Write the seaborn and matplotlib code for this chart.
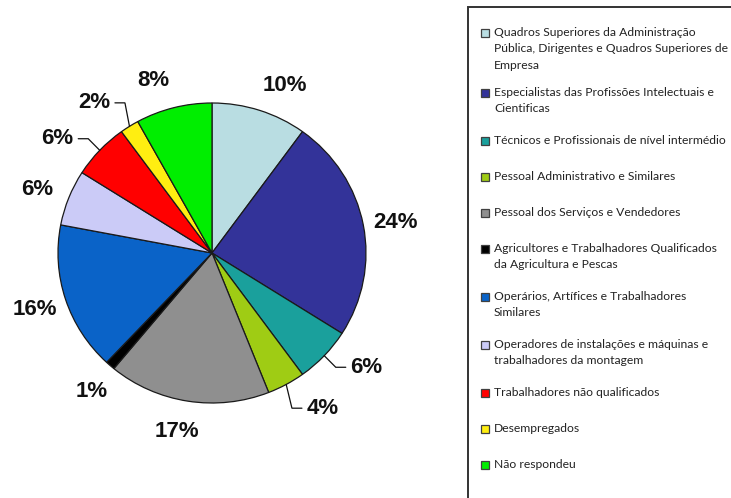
import numpy as np
import matplotlib
matplotlib.use("Agg")
import matplotlib.pyplot as plt
from matplotlib.patches import Rectangle
import seaborn as sns

# ---- data ----
categories = [
    "Quadros Superiores da Administração\nPública, Dirigentes e Quadros Superiores de\nEmpresa",
    "Especialistas das Profissões Intelectuais e\nCientificas",
    "Técnicos e Profissionais de nível intermédio",
    "Pessoal Administrativo e Similares",
    "Pessoal dos Serviços e Vendedores",
    "Agricultores e Trabalhadores Qualificados\nda Agricultura e Pescas",
    "Operários, Artífices e Trabalhadores\nSimilares",
    "Operadores de instalações e máquinas e\ntrabalhadores da montagem",
    "Trabalhadores não qualificados",
    "Desempregados",
    "Não respondeu",
]
values = [10, 24, 6, 4, 17, 1, 16, 6, 6, 2, 8]
colors = ["#b9dde2", "#333399", "#1aa09c", "#9fcc14", "#8f8f8f", "#000000",
          "#0a63c8", "#cbcbf7", "#ff0000", "#ffee11", "#00ee00"]

# ---- layout / style ----
leader = [False, False, True, True, False, False, False, False, True, True, False]
angle_shift = [-5, -1, 6, 6, -2, 1, 0, 1, 6, 5, 4]
W, H = 731, 498
CX, CY, RX, RY = 212, 253, 154, 150

sns.set_theme(style="white")
plt.rcParams["font.family"] = ["Liberation Sans", "DejaVu Sans"]

fig = plt.figure(figsize=(W / 100, H / 100), dpi=100)
fig.patch.set_facecolor("white")
ax = fig.add_axes([0, 0, 1, 1])
wedges, _ = ax.pie(values, colors=colors, startangle=90, counterclock=False,
                   wedgeprops=dict(edgecolor="#1a1a1a", linewidth=0.9))
ax.set_aspect("auto")
ax.set_xlim(-CX / RX, (W - CX) / RX)
ax.set_ylim((CY - H) / RY, CY / RY)
ax.axis("off")

for w, v, ld, sh in zip(wedges, values, leader, angle_shift):
    mid = np.deg2rad((w.theta1 + w.theta2) / 2)
    ang = mid + np.deg2rad(sh)
    r = 1.26 if ld else 1.21
    lx, ly = r * np.cos(ang), r * np.sin(ang)
    ax.text(lx, ly, f"{v}%", ha="center", va="center", fontsize=16,
            fontweight="bold", color="#111111")
    if ld:
        sx, sy = np.cos(mid), np.sin(mid)
        side = 1 if lx > 0 else -1
        ex = lx - side * 0.135
        bx = lx - side * 0.2
        ax.plot([sx, bx, ex], [sy, ly, ly], color="#111111", lw=0.9,
                solid_joinstyle="miter")

# ---- legend (drawn as a boxed list on the right) ----
def fx(px):
    return px / W

def fy(py):
    return 1 - py / H

fig.patches.append(Rectangle((fx(468), fy(H + 20)), fx(400), fy(7) - fy(H + 20),
                             transform=fig.transFigure, fill=False,
                             edgecolor="#333333", linewidth=1.4))
y = 33
for cat, col in zip(categories, colors):
    n = cat.count("\n") + 1
    fig.patches.append(Rectangle((fx(481), fy(y + 4)), fx(8), fy(y - 4) - fy(y + 4),
                                 transform=fig.transFigure, facecolor=col,
                                 edgecolor="#404040", linewidth=0.9))
    fig.text(fx(494), fy(y - 6), cat, ha="left", va="top", fontsize=8.7,
             family=["Lato", "DejaVu Sans"], color="#222222", linespacing=1.6)
    y += 24 + 12 * n

fig.savefig("out.png", dpi=100, facecolor="white")
